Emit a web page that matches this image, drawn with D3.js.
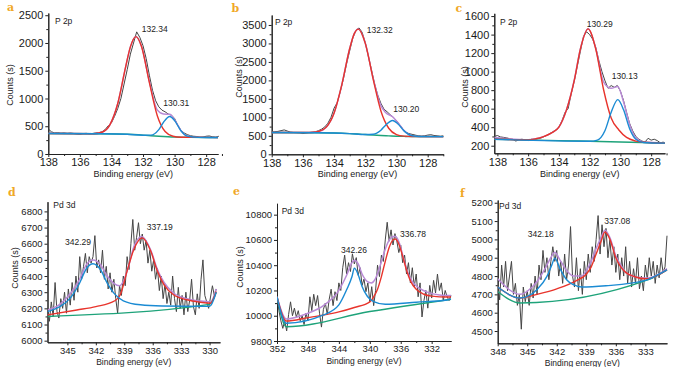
<!DOCTYPE html>
<html>
<head>
<meta charset="utf-8">
<script src="https://cdn.jsdelivr.net/npm/d3@7"></script>
<style>
  body { margin: 0; background: #fff; }
  svg { display: block; }
  text { font-family: "Liberation Sans", Arial, sans-serif; }
</style>
</head>
<body>
<svg id="chart" width="673" height="367"></svg>
<script>
// ---- panel a : P 2p ----
const aRawStart = 138, aRawStep = 0.2;
const aRaw = [450,400,380,385,375,380,372,378,370,360,355,368,372,365,370,380,385,400,440,510,
  560,680,820,1000,1260,1520,1800,2000,2200,2100,1950,1720,1420,1150,960,850,790,760,720,700,
  640,520,430,380,350,330,320,315,300,305,320,325,310,300,320];
const aBase = [[138,370],[135,365],[133,355],[132,340],[131,320],[130,305],[129,300],[127.25,298]];
const aRed = [[138,370],[135.1,365],[134.6,392],[134.1,525],[133.6,910],[133.1,1570],[132.8,1930],[132.45,2115],
  [132.1,1940],[131.6,1290],[131.1,695],[130.6,405],[130.1,320],[129.6,303],[128,300],[127.25,298]];
const aBlue = [[138,370],[135,365],[133,355],[132,338],[131.5,340],[131,440],[130.7,572],[130.31,675],
  [130,602],[129.6,420],[129.2,322],[128.5,300],[127.25,298]];
const aEnv = [[138,372],[135.1,366],[134.6,392],[134.1,525],[133.6,910],[133.1,1570],[132.8,1930],[132.45,2118],
  [132.1,1945],[131.6,1310],[131.1,795],[130.7,720],[130.31,715],[130,617],[129.6,425],[129.2,324],[128.5,301],[127.25,298]];

// ---- panel b : P 2p ----
const bRawStart = 138, bRawStep = 0.2;
const bRaw = [600,610,620,640,660,630,600,590,585,580,560,575,590,600,610,640,680,740,840,1000,
  1250,1400,1700,2050,2450,2800,3150,3350,3420,3300,3020,2650,2280,1900,1600,1380,1220,1150,1070,1000,
  910,800,690,600,560,540,520,500,490,500,520,530,510,500,490,500];
const bBase = [[138,590],[135,585],[134,578],[133.5,570],[133,560],[132.5,548],[132,535],[131.5,522],
  [131,510],[130.5,500],[130,490],[129.5,484],[129,480],[127,478]];
const bRed = [[138,590],[135.5,592],[135,616],[134.5,735],[134,1118],[133.5,1894],[133,2862],[132.7,3272],
  [132.45,3388],[132,3003],[131.5,2042],[131,1173],[130.5,705],[130,535],[129.5,491],[129,480],[127,478]];
const bBlue = [[138,590],[135,585],[134,578],[133,560],[132,535],[131.5,543],[131,653],[130.7,789],
  [130.25,915],[129.9,820],[129.5,627],[129,501],[128.5,480],[127,478]];
const bEnv = [[138,592],[135.5,592],[135,616],[134.5,735],[134,1118],[133.5,1894],[133,2862],[132.7,3272],
  [132.45,3388],[132,3005],[131.5,2060],[131,1316],[130.7,1129],[130.25,1015],[129.9,851],[129.5,634],
  [129,501],[128.5,481],[127,478]];

// ---- panel c : P 2p ----
const cRawStart = 138.2, cRawStep = 0.2;
const cRaw = [300,310,295,290,285,275,270,250,265,270,262,255,270,268,275,280,295,310,330,350,
  370,400,470,560,600,760,900,1060,1220,1380,1430,1400,1350,1260,1120,1000,900,820,850,830,
  850,790,690,560,440,360,300,270,250,240,280,260,270,255,230,240];
const cBase = [[138.2,270],[136,262],[134,255],[132,248],[130,240],[128,232],[127.1,228]];
const cRed = [[138.2,272],[136,263],[135.5,275],[135,298],[134.5,335],[134,400],[133.5,590],[133,905],
  [132.6,1246],[132.1,1462],[131.6,1242],[131.1,810],[130.6,500],[130.1,370],[129.6,290],[129,250],
  [128.5,238],[127.1,228]];
const cBlue = [[138.2,270],[132,248],[131.5,261],[131,365],[130.6,561],[130.17,698],[129.8,590],
  [129.4,384],[129,270],[128.5,235],[127.1,228]];
const cEnv = [[138.2,290],[136,264],[135.5,276],[135,298],[134.5,335],[134,400],[133.5,590],[133,910],
  [132.6,1248],[132.1,1462],[131.6,1250],[131.1,890],[130.6,820],[130.17,840],[129.8,675],[129.4,430],
  [129,285],[128.5,240],[127.1,230]];

// ---- panel d : Pd 3d ----
const dRawStart = 347.1, dRawStep = 0.2;
const dRaw = [6200,6120,6240,6150,6360,6180,6140,6260,6200,6300,
  6170,6320,6220,6360,6250,6400,6300,6520,6380,6460,
  6540,6420,6520,6480,6520,6650,6450,6500,6420,6560,
  6380,6460,6320,6420,6300,6380,6260,6170,6340,6280,
  6400,6340,6520,6440,6600,6750,6560,6640,6730,6600,
  6660,6560,6620,6480,6560,6430,6500,6380,6450,6310,
  6400,6260,6350,6230,6300,6220,6400,6260,6180,6330,
  6200,6280,6160,6300,6180,6250,6380,6210,6160,6290,
  6200,6380,6500,6280,6240,6200,6270,6340,6280,6320];
const dBase = [[347.1,6150],[330.0,6225],[329.3,6300]];
const dRed = [[347.1,6160],[344,6190],[342,6211],[340,6247],[339.42,6284],[338.71,6429],[338.0,6563],
  [337.12,6636],[336.2,6553],[335.5,6429],[334.8,6346],[333.8,6284],[332.4,6253],[330.95,6238],
  [329.9,6232],[329.3,6304]];
const dBlue = [[347.1,6180],[345.8,6211],[344.7,6263],[343.8,6346],[342.95,6450],[342.3,6476],[341.5,6439],
  [340.8,6356],[340.1,6294],[339.1,6247],[337.3,6222],[335,6215],[330,6212],[329.3,6300]];
const dEnv = [[347.1,6190],[345.8,6225],[344.7,6290],[343.8,6370],[342.95,6475],[342.3,6500],[341.5,6470],
  [340.8,6400],[340.1,6355],[339.5,6340],[339.0,6380],[338.5,6470],[338.0,6580],[337.15,6645],
  [336.2,6560],[335.5,6440],[334.8,6360],[333.8,6295],[332.4,6260],[330.95,6245],[329.9,6240],[329.3,6320]];

// ---- panel e : Pd 3d ----
const eRawStart = 352, eRawStep = 0.25;
const eRaw = [10150,10040,9960,9900,9960,9880,10010,10110,10000,10060,
  9990,10040,9960,10000,9930,10020,9960,10150,10040,10170,
  10080,10160,10020,9910,10050,10100,10010,10130,10210,10080,
  10190,10120,10260,10200,10380,10480,10330,10420,10350,10490,
  10410,10460,10320,10380,10240,10290,10190,10260,10110,10230,
  10080,10200,10400,10310,10480,10430,10600,10740,10590,10680,
  10560,10650,10590,10500,10560,10420,10480,10330,10420,10260,
  10380,10230,10330,10150,10260,9990,10120,10200,10060,10240,
  10140,10280,10180,10330,10200,10260,10120,10200,10150,10120,10160];
const eBase = [[352,10150],[350.8,9913],[340,10033],[329.5,10131]];
const eRed = [[352,10150],[350.8,9958],[348,9985],[346,10005],[344,10030],[342,10065],[340,10110],
  [339.5,10150],[339,10210],[338.5,10310],[338,10430],[337.5,10540],[337,10600],[336.7,10607],
  [336.2,10560],[335.7,10460],[335.2,10350],[334.7,10270],[334,10210],[333,10170],[332,10155],
  [330,10148],[329.5,10148]];
const eBlue = [[352,10150],[350.8,9940],[346,10006],[344,10086],[343,10205],[342.3,10310],[342.0,10377],
  [341.5,10324],[341.0,10231],[340.3,10152],[339.5,10112],[338,10091],[334,10107],[330,10125],[329.5,10131]];
const eEnv = [[352,10150],[350.8,9975],[348,10020],[346,10080],[344,10200],[343,10320],[342.3,10420],
  [342.0,10440],[341.5,10410],[341,10330],[340.3,10270],[339.8,10260],[339.3,10290],[338.8,10370],
  [338.3,10470],[337.8,10560],[337.2,10620],[336.7,10630],[336.2,10580],[335.7,10470],[335.2,10360],
  [334.5,10270],[333.5,10215],[332.5,10185],[331,10165],[329.5,10160]];

// ---- panel f : Pd 3d ----
const fRawStart = 348, fRawStep = 0.2;
const fRaw = [4780,4670,4860,4740,4880,4720,4800,4880,4700,4760,
  4640,4700,4510,4740,4660,4720,4640,4760,4680,4800,
  4700,4860,4780,4940,4820,4900,4780,4880,4960,4880,
  4940,4800,4880,4760,4920,4780,4860,5070,4800,4740,
  4900,4720,4840,4700,4880,4780,4920,4820,4960,4880,
  5000,5130,4920,5080,4960,5060,4900,5000,4860,4960,
  4820,4920,4780,4900,4800,4960,4760,4880,4740,4840,
  4760,4900,4730,4800,4720,4860,4780,4900,4800,4880,
  4760,4860,4790,4900,4820,4850,5020];
const fBase = [[348,4716],[345.7,4653],[332.7,4780],[330.8,4834]];
const fRed = [[348,4740],[345.7,4680],[344,4700],[342,4730],[340,4775],[339,4810],[338.5,4850],[338,4920],
  [337.5,4990],[337.1,5040],[336.6,5000],[336,4900],[335.5,4850],[335,4820],[334,4795],[333,4785],
  [332.7,4786],[330.8,4834]];
const fBlue = [[348,4740],[345.7,4680],[344,4726],[343,4798],[342.5,4861],[342.2,4898],[341.7,4843],
  [341,4780],[340.3,4753],[339.5,4740],[337,4747],[333,4776],[332.7,4782],[330.8,4834]];
const fEnv = [[348,4785],[345.7,4700],[344.5,4740],[344,4770],[343,4860],[342.5,4910],[342.2,4930],
  [341.7,4890],[341,4830],[340.3,4800],[339.5,4800],[339,4830],[338.5,4880],[338,4950],[337.5,5010],
  [337.1,5050],[336.6,5010],[336,4910],[335.5,4860],[335,4820],[334,4795],[333,4790],[332.7,4790],[330.8,4840]];

// ticks
const p2pXTicks = [138,136,134,132,130,128];
const p2pXMinor = [137,135,133,131,129,127];
const aYTicks = [0,500,1000,1500,2000,2500];
const bYTicks = [0,500,1000,1500,2000,2500,3000,3500];
const cYTicks = [200,400,600,800,1000,1200,1400,1600];
const dXTicks = [345,342,339,336,333,330];
const dYTicks = [6000,6100,6200,6300,6400,6500,6600,6700,6800];
const eXTicks = [352,348,344,340,336,332];
const eYTicks = [9800,10000,10200,10400,10600,10800];
const fXTicks = [348,345,342,339,336,333];
const fYTicks = [4500,4600,4700,4800,4900,5000,5100,5200];

// labels
const panelTags = ['a','b','c','d','e','f'];
const coreLevels = ['P 2p','P 2p','P 2p','Pd 3d','Pd 3d','Pd 3d'];
const peakLabels = [['132.34','130.31'],['132.32','130.20'],['130.29','130.13'],
  ['342.29','337.19'],['342.26','336.78'],['342.18','337.08']];
const xTitle = 'Binding energy (eV)';
const yTitle = 'Counts (s)';

const colors = { raw: '#454545', env: '#b98ad6', red: '#e8342c', blue: '#1b8bd3', base: '#1ea37a', tag: '#f0a826' };

// layout of each panel (pixels)
const layout = [
  { l: 48.3, r: 218, t: 13, b: 154, xd: [138, 127.25], yd: [0, 2540], fs: 11, tfs: 9,
    tag: [7, 10.5], core: [55, 24], pk: [[141.7, 31.7], [163.3, 106]], ylab: [10, 85], xlabY: 177 },
  { l: 271.7, r: 443.3, t: 15, b: 154.3, xd: [138, 127], yd: [0, 3770], fs: 11, tfs: 9,
    tag: [231.5, 12], core: [275, 25], pk: [[366.7, 33.3], [393.3, 112]], ylab: [239, 77], xlabY: 177 },
  { l: 494.3, r: 665, t: 13.3, b: 153.3, xd: [138.2, 127.1], yd: [118, 1630], fs: 11, tfs: 9,
    tag: [455.5, 12], core: [500, 25], pk: [[586.7, 27.3], [611.7, 79.3]], ylab: [465, 87], xlabY: 177 },
  { l: 47.5, r: 220, t: 201.7, b: 342.3, xd: [347.1, 328.9], yd: [5990, 6860], fs: 9.5, tfs: 8.5,
    tag: [8, 196], core: [53.3, 208.3], pk: [[65, 245], [146.7, 230]], ylab: [15, 268], xlabY: 365 },
  { l: 277, r: 451, t: 203.3, b: 341, xd: [352, 329.5], yd: [9800, 10890], fs: 9.5, tfs: 8.5,
    tag: [233, 195], core: [281.7, 214.3], pk: [[341, 253.3], [400, 237.3]], ylab: [239.5, 267], xlabY: 364 },
  { l: 497.7, r: 667, t: 200, b: 343.3, xd: [348, 330.8], yd: [4433, 5215], fs: 9.5, tfs: 8.5,
    tag: [460, 196.5], core: [499, 209.3], pk: [[527.7, 236.7], [604.3, 224]], ylab: [459.5, 258], xlabY: 365.5, hideY: true }
];

const series = [
  { raw: aRaw, start: aRawStart, step: aRawStep, env: aEnv, red: aRed, blue: aBlue, base: aBase, xt: p2pXTicks, xm: p2pXMinor, yt: aYTicks },
  { raw: bRaw, start: bRawStart, step: bRawStep, env: bEnv, red: bRed, blue: bBlue, base: bBase, xt: p2pXTicks, xm: p2pXMinor, yt: bYTicks },
  { raw: cRaw, start: cRawStart, step: cRawStep, env: cEnv, red: cRed, blue: cBlue, base: cBase, xt: p2pXTicks, xm: p2pXMinor, yt: cYTicks },
  { raw: dRaw, start: dRawStart, step: dRawStep, env: dEnv, red: dRed, blue: dBlue, base: dBase, xt: dXTicks, yt: dYTicks },
  { raw: eRaw, start: eRawStart, step: eRawStep, env: eEnv, red: eRed, blue: eBlue, base: eBase, xt: eXTicks, yt: eYTicks },
  { raw: fRaw, start: fRawStart, step: fRawStep, env: fEnv, red: fRed, blue: fBlue, base: fBase, xt: fXTicks, yt: fYTicks }
];

const svg = d3.select('#chart');
const defs = svg.append('defs');

function minorsBetween(ticks) {
  const out = [];
  for (let i = 0; i < ticks.length - 1; i++) out.push((ticks[i] + ticks[i + 1]) / 2);
  return out;
}

function drawPanel(i) {
  const L = layout[i], S = series[i];
  const x = d3.scaleLinear().domain(L.xd).range([L.l, L.r]);
  const y = d3.scaleLinear().domain(L.yd).range([L.b, L.t]);
  const g = svg.append('g');

  defs.append('clipPath').attr('id', 'clip' + i)
    .append('rect').attr('x', L.l).attr('y', L.t - 6).attr('width', L.r - L.l + 1).attr('height', L.b - L.t + 6);

  // axes: minor ticks first, then labelled major ticks
  const xMinor = S.xm || minorsBetween(S.xt);
  const yMinor = minorsBetween(S.yt);
  g.append('g').attr('transform', `translate(0,${L.b})`)
    .call(d3.axisBottom(x).tickValues(xMinor).tickSize(2).tickSizeOuter(0).tickFormat(''));
  g.append('g').attr('transform', `translate(${L.l},0)`)
    .call(d3.axisLeft(y).tickValues(yMinor).tickSize(2).tickSizeOuter(0).tickFormat(''));
  const xa = g.append('g').attr('transform', `translate(0,${L.b})`)
    .call(d3.axisBottom(x).tickValues(S.xt).tickSize(3).tickSizeOuter(0).tickPadding(1.5).tickFormat(d3.format('d')));
  const ya = g.append('g').attr('transform', `translate(${L.l},0)`)
    .call(d3.axisLeft(y).tickValues(S.yt).tickSize(3).tickSizeOuter(0).tickPadding(2).tickFormat(d3.format('d')));
  [xa, ya].forEach(a => a.attr('font-size', L.fs).attr('font-family', '"Liberation Sans", Arial, sans-serif').attr('color', '#1a1a1a'));
  g.selectAll('.domain, .tick line').attr('stroke', '#222');

  // spectrum and fitted components
  const plot = g.append('g').attr('clip-path', `url(#clip${i})`);
  const rawLine = d3.line().x((d, k) => x(S.start - k * S.step)).y(d => y(d));
  const fit = d3.line().x(d => x(d[0])).y(d => y(d[1])).curve(d3.curveMonotoneX);

  plot.append('path').attr('d', rawLine(S.raw)).attr('fill', 'none')
    .attr('stroke', colors.raw).attr('stroke-width', 1);
  plot.append('path').attr('d', fit(S.env)).attr('fill', 'none')
    .attr('stroke', colors.env).attr('stroke-width', 1.5);
  plot.append('path').attr('d', fit(S.base)).attr('fill', 'none')
    .attr('stroke', colors.base).attr('stroke-width', 1.4);
  plot.append('path').attr('d', fit(S.red)).attr('fill', 'none')
    .attr('stroke', colors.red).attr('stroke-width', 1.4);
  plot.append('path').attr('d', fit(S.blue)).attr('fill', 'none')
    .attr('stroke', colors.blue).attr('stroke-width', 1.4);

  // texts
  svg.append('text').attr('x', L.tag[0]).attr('y', L.tag[1])
    .style('font-family', '"DejaVu Serif", "Liberation Serif", serif').attr('font-weight', 'bold')
    .attr('font-size', 11).attr('fill', colors.tag).text(panelTags[i]);
  svg.append('text').attr('x', L.core[0]).attr('y', L.core[1])
    .attr('font-size', 8.5).attr('fill', '#222').text(coreLevels[i]);
  peakLabels[i].forEach((t, k) => {
    svg.append('text').attr('x', L.pk[k][0]).attr('y', L.pk[k][1])
      .attr('font-size', 8.5).attr('fill', '#222').text(t);
  });
  svg.append('text').attr('x', (L.l + L.r) / 2).attr('y', L.xlabY)
    .attr('text-anchor', 'middle').attr('font-size', L.tfs).attr('fill', '#222').text(xTitle);

  const yl = svg.append('text')
    .attr('transform', `translate(${L.ylab[0] + 3},${L.ylab[1]}) rotate(-90)`)
    .attr('text-anchor', 'middle').attr('font-size', 9).attr('fill', '#222').text(yTitle);
  if (L.hideY) {
    // in the reference this axis title is almost fully covered
    defs.append('clipPath').attr('id', 'ycut')
      .append('rect').attr('x', 460).attr('y', 200).attr('width', 8).attr('height', 120);
    yl.attr('clip-path', 'url(#ycut)').attr('fill', '#777');
  }
}

for (let i = 0; i < 6; i++) drawPanel(i);
</script>
</body>
</html>
